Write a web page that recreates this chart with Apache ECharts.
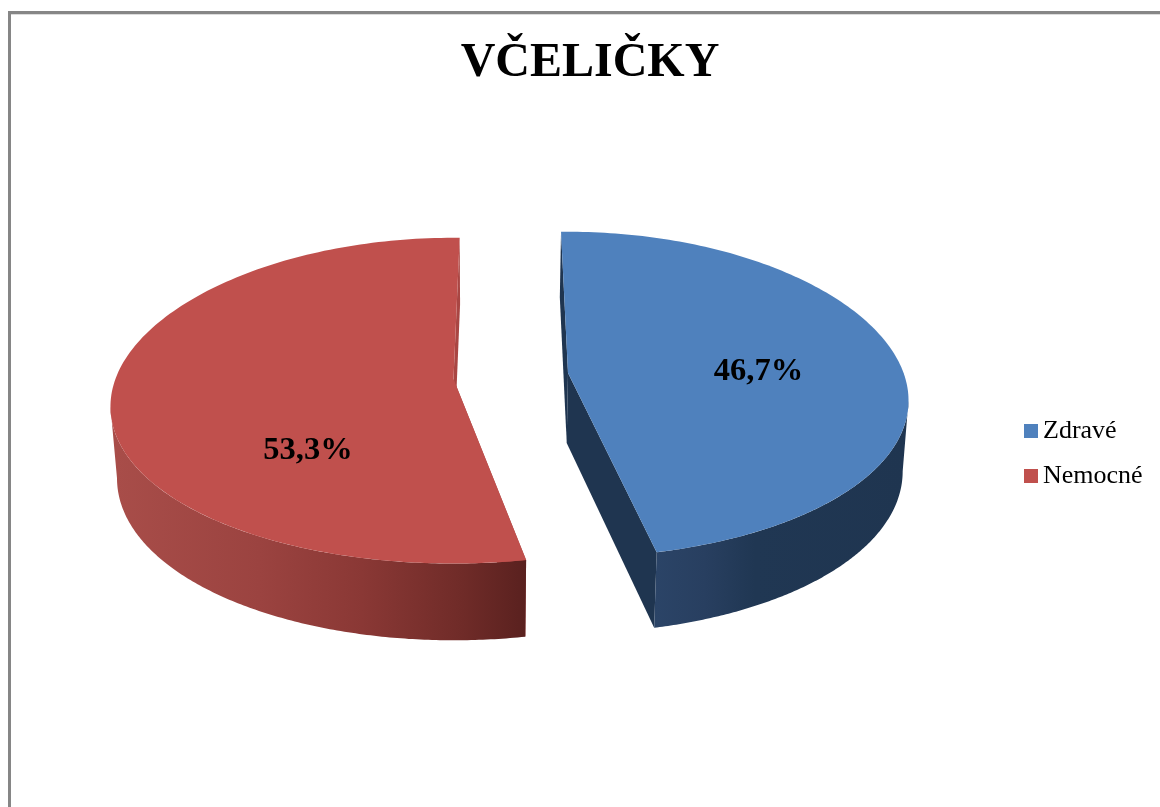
<!DOCTYPE html>
<html>
<head>
<meta charset="utf-8">
<style>html,body{margin:0;padding:0;background:#fff}#c{width:1160px;height:807px}</style>
<script src="https://cdn.jsdelivr.net/npm/echarts@6/dist/echarts.min.js"></script>
</head>
<body>
<div id="c"></div>
<script>
const titleText = 'VČELIČKY';
const categories = ['Zdravé', 'Nemocné'];
const seriesValues = [46.7, 53.3];

const total = seriesValues.reduce((a, b) => a + b, 0);
const PK = 0.133, SAG = 6, N = 160;
const slices = [
  { start: -1.34, top: [568, 373], bot: [566.7, 443], label: [758.5, 372], color: '#4f81bd', cut: '#1f3550',
    topG: { b: 337.5, a: 160 }, botG: { b: 333, a: 165 },
    wallX: [655, 905], wall: [[0, '#2b4467'], [0.2, '#283f60'], [0.4, '#203753'], [1, '#1f3550']] },
  { start: 169.3, top: [453.5, 379], bot: [454, 450], label: [308, 451], color: '#c0504d', cut: '#a94643',
    topG: { b: 340, a: 160 }, botG: { b: 334, a: 165 },
    wallX: [117, 525], wall: [[0, '#a84d49'], [0.35, '#9b4340'], [0.6, '#8a3835'], [0.85, '#6f2b28'], [1, '#5a211f']] }
];
const EDGE = Math.acos(-PK) * 180 / Math.PI;

function project(o, g, deg) {
  const t = deg * Math.PI / 180, X = Math.sin(t), Y = -Math.cos(t), w = 1 - PK * Y;
  return [o[0] + g.b * X / w, o[1] + g.a * Y / w + SAG * X * X];
}
function arc(o, g, from, to) {
  const pts = [];
  for (let i = 0; i <= N; i++) pts.push(project(o, g, from + (to - from) * i / N));
  return pts;
}
function renderSlice(idx) {
  return function (params, api) {
    const s = slices[idx], v = api.value(0);
    const from = s.start, to = s.start + v / total * 360;
    const topArc = arc(s.top, s.topG, from, to), botArc = arc(s.bot, s.botG, from, to);
    const poly = (points, fill) => ({ type: 'polygon', shape: { points }, style: { fill } });
    const wallFrom = Math.max(from, EDGE), wallTo = Math.min(to, 360 - EDGE);
    const wallFill = new echarts.graphic.LinearGradient(s.wallX[0], 0, s.wallX[1], 0,
      s.wall.map(w => ({ offset: w[0], color: w[1] })), true);
    const wallPts = arc(s.top, s.topG, wallFrom, wallTo)
      .concat(arc(s.bot, s.botG, wallFrom, wallTo).reverse());
    return {
      type: 'group',
      children: [
        poly([s.top, topArc[0], botArc[0], s.bot], s.cut),
        poly([s.top, topArc[N], botArc[N], s.bot], s.cut),
        poly(wallPts, wallFill),
        poly([s.top].concat(topArc), s.color),
        { type: 'text', style: {
          x: s.label[0], y: s.label[1], text: v.toFixed(1).replace('.', ',') + '%',
          fill: '#000', align: 'center', verticalAlign: 'middle',
          font: 'bold 32.5px "Liberation Serif"' } }
      ]
    };
  };
}

const chart = echarts.init(document.getElementById('c'), null, { renderer: 'canvas' });
chart.setOption({
  animation: false,
  backgroundColor: '#fff',
  title: {
    text: titleText, left: 585, top: 35, textAlign: 'center',
    textStyle: { fontFamily: 'Liberation Serif', fontWeight: 'bold', fontSize: 48, color: '#000' }
  },
  legend: {
    data: categories, orient: 'vertical', left: 1024, top: 418, itemWidth: 14, itemHeight: 14, itemGap: 19,
    icon: 'rect', selectedMode: false, padding: 0,
    textStyle: { fontFamily: 'Liberation Serif', fontSize: 26, color: '#000' }
  },
  graphic: [
    { type: 'rect', silent: true, shape: { x: 11, y: 14, width: 1149, height: 1 }, style: { fill: '#dcdcdc' } },
    { type: 'rect', silent: true, shape: { x: 8, y: 11, width: 1152, height: 3 }, style: { fill: '#868686' } },
    { type: 'rect', silent: true, shape: { x: 8, y: 11, width: 3, height: 796 }, style: { fill: '#868686' } }
  ],
  series: categories.map((name, i) => ({
    type: 'custom', name, coordinateSystem: 'none', silent: true,
    itemStyle: { color: slices[i].color },
    data: [[seriesValues[i]]],
    renderItem: renderSlice(i)
  }))
});
</script>
</body>
</html>
